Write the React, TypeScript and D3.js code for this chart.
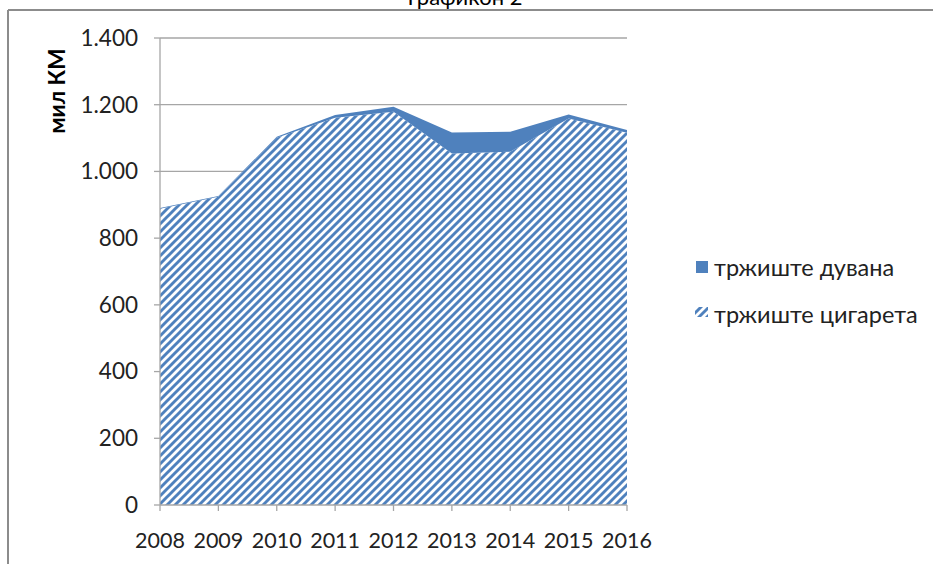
import React from "react";
import * as d3 from "d3";

const years = ["2008", "2009", "2010", "2011", "2012", "2013", "2014", "2015", "2016"];
const cigarettes = [888, 924, 1101, 1161, 1179, 1054, 1059, 1159, 1116];
const tobacco = [2, 2, 3, 8, 15, 63, 60, 12, 8];
const yTicks = [0, 200, 400, 600, 800, 1000, 1200, 1400];
const seriesNames = ["тржиште дувана", "тржиште цигарета"];

const W = 933;
const H = 564;
const left = 160, right = 627, top = 38, bottom = 505;
const blue = "#4f81bd";
const font = "Lato, 'Noto Sans', sans-serif";

const fmt = (v: number) => d3.format(",")(v).replace(/,/g, ".");

const App = () => {
  const x = d3.scalePoint<string>().domain(years).range([left, right]);
  const y = d3.scaleLinear().domain([0, 1400]).range([bottom, top]);

  const rows = years.map((yr, i) => ({ year: yr, cig: cigarettes[i], tob: tobacco[i] }));
  const stacked = d3.stack<any>().keys(["cig", "tob"])(rows);

  const area = d3
    .area<any>()
    .x((d) => x(d.data.year) as number)
    .y0((d) => y(d[0]))
    .y1((d) => y(d[1]));

  return (
    <svg
      width={W}
      height={H}
      style={{ position: "absolute", left: 0, top: 0, background: "#fff" }}
      fontFamily={font}
    >
      <defs>
        <pattern id="hatch" patternUnits="userSpaceOnUse" width={8} height={8}>
          <rect width={8} height={8} fill="#fff" />
          <path d="M-2,2 l4,-4 M0,8 l8,-8 M6,10 l4,-4" stroke={blue} strokeWidth={2.9} />
        </pattern>
      </defs>

      {/* title, cut off at the top */}
      <text x={465} y={5} textAnchor="middle" fontSize={22} fill="#000">
        Графикон 2
      </text>

      {/* frame */}
      <line x1={8} x2={W} y1={10} y2={10} stroke="#8c8c8c" strokeWidth={2} />
      <line x1={8} x2={8} y1={10} y2={H} stroke="#8c8c8c" strokeWidth={2} />

      {/* gridlines */}
      {yTicks.slice(1).map((t) => (
        <line key={t} x1={left} x2={right} y1={y(t)} y2={y(t)} stroke="#a6a6a6" strokeWidth={1.3} />
      ))}

      {/* areas */}
      <path d={area(stacked[0] as any) || ""} fill="url(#hatch)" />
      <path d={area(stacked[1] as any) || ""} fill={blue} />

      {/* y axis */}
      <line x1={left} x2={left} y1={top} y2={bottom} stroke="#a6a6a6" strokeWidth={1.3} />
      {yTicks.map((t) => (
        <g key={t}>
          <line x1={left - 6} x2={left} y1={y(t)} y2={y(t)} stroke="#a6a6a6" strokeWidth={1.3} />
          <text x={138} y={y(t)} dy="0.35em" textAnchor="end" fontSize={22.5} fill="#222">
            {fmt(t)}
          </text>
        </g>
      ))}
      <text
        transform={`translate(65,91) rotate(-90)`}
        textAnchor="middle"
        fontSize={22.5}
        fontWeight="bold"
        fill="#000"
      >
        мил КМ
      </text>

      {/* x axis */}
      <line x1={left} x2={right} y1={bottom} y2={bottom} stroke="#a6a6a6" strokeWidth={1.3} />
      {years.map((yr) => (
        <g key={yr}>
          <line x1={x(yr)} x2={x(yr)} y1={bottom} y2={bottom + 6} stroke="#a6a6a6" strokeWidth={1.3} />
          <text x={x(yr)} y={548} textAnchor="middle" fontSize={21.5} fill="#222">
            {yr}
          </text>
        </g>
      ))}

      {/* legend */}
      <rect x={696} y={261} width={12} height={12} fill={blue} />
      <text x={714} y={276} fontSize={23.5} fill="#222">
        {seriesNames[0]}
      </text>
      <rect x={695} y={307} width={13} height={10} fill="url(#hatch)" />
      <text x={714} y={323} fontSize={23.5} fill="#222">
        {seriesNames[1]}
      </text>
    </svg>
  );
};

export default App;
